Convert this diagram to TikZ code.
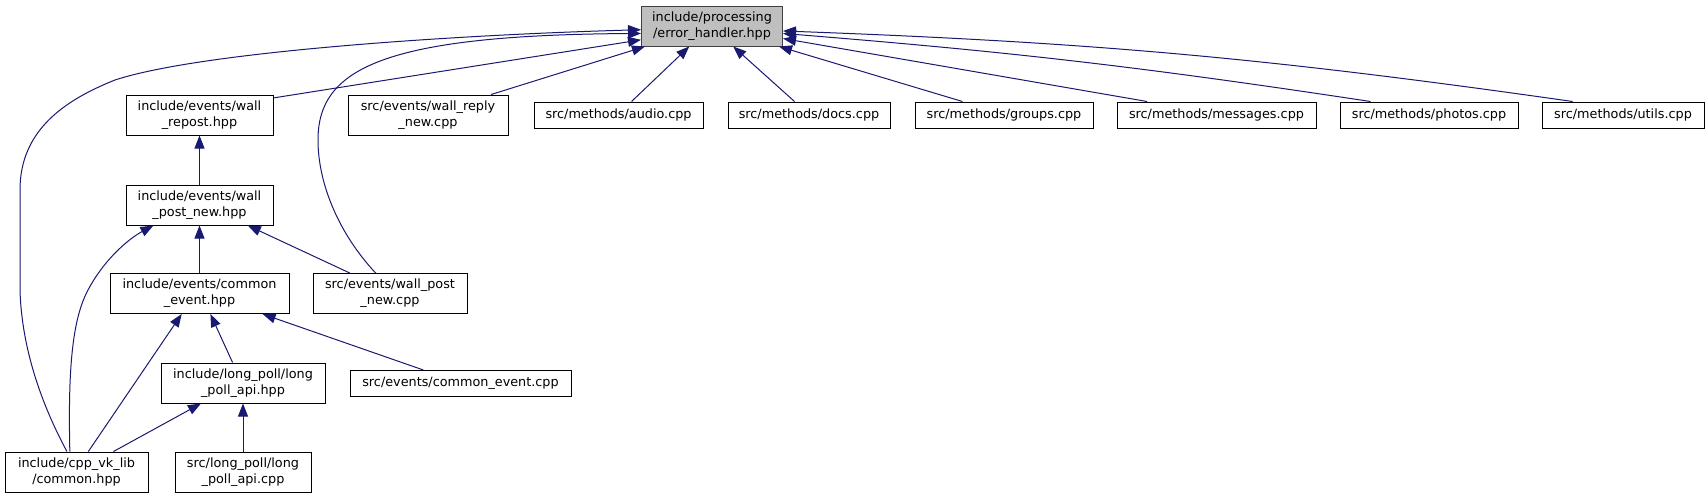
\documentclass[tikz,border=0pt]{standalone}
\usepackage{fontspec}
\setmainfont{DejaVu Sans}
\usetikzlibrary{arrows.meta}
\definecolor{edgeblue}{HTML}{191970}

\begin{document}
\begin{tikzpicture}[
                x=1pt, y=-1pt,
                file/.style={
                        draw=black,
                        line width=1pt,
                        inner sep=0pt,
                        minimum height=26,
                        align=center,
                        font=\fontsize{12.8}{16}\selectfont
                    },
                twoline/.style={file, minimum height=40},
                root/.style={twoline, fill=black!25, draw=black!75},
                dep/.style={draw=edgeblue, line width=1pt, -{Triangle[length=13pt,width=10pt]}}
            ]
            \useasboundingbox (0,0) rectangle (1707,499);

            % Root
            \node[root, minimum width=141] (eh) at (712,26) {include/processing\\/error\_handler.hpp};

            % Second rank
            \node[twoline, minimum width=147] (repost) at (199.5,115) {include/events/wall\\\_repost.hpp};
            \node[twoline, minimum width=160] (replynew) at (428,115) {src/events/wall\_reply\\\_new.cpp};
            \node[file, minimum width=169] (audio) at (618.5,115) {src/methods/audio.cpp};
            \node[file, minimum width=162] (docs) at (809,115) {src/methods/docs.cpp};
            \node[file, minimum width=178] (groups) at (1004,115) {src/methods/groups.cpp};
            \node[file, minimum width=199] (messages) at (1216.5,115) {src/methods/messages.cpp};
            \node[file, minimum width=178] (photos) at (1429,115) {src/methods/photos.cpp};
            \node[file, minimum width=162] (utils) at (1623,115) {src/methods/utils.cpp};

            % Lower ranks
            \node[twoline, minimum width=147] (postnewhpp) at (199.5,205) {include/events/wall\\\_post\_new.hpp};
            \node[twoline, minimum width=179] (commonevhpp) at (199.5,293.5) {include/events/common\\\_event.hpp};
            \node[twoline, minimum width=154] (postnewcpp) at (390,293.5) {src/events/wall\_post\\\_new.cpp};
            \node[twoline, minimum width=164] (lpapihpp) at (243,383) {include/long\_poll/long\\\_poll\_api.hpp};
            \node[file, minimum width=221] (commonevcpp) at (460.5,383.5) {src/events/common\_event.cpp};
            \node[twoline, minimum width=143] (common) at (76.5,472) {include/cpp\_vk\_lib\\/common.hpp};
            \node[twoline, minimum width=136] (lpapicpp) at (243,472) {src/long\_poll/long\\\_poll\_api.cpp};

            % Edges to the root
            \draw[dep] (repost.13) -- (eh.191);
            \draw[dep] (replynew.18) -- (eh.197);
            \draw[dep] (audio.46) -- (eh.222);
            \draw[dep] (docs.137) -- (eh.316);
            \draw[dep] (groups.162) -- (eh.343);
            \draw[dep] (messages.169) -- (eh.350);
            \draw[dep] (photos.167) to[bend right=2] (eh.354);
            \draw[dep] (utils.165) to[bend right=3] (eh.356);
            \draw[dep] (common.115) .. controls (50,420) and (22,360) .. (20,290) -- (20,190)
                .. controls (20,130) and (65,100) .. (115,80)
                .. controls (200,52) and (450,35) .. (eh.183);
            \draw[dep] (postnewcpp.125) .. controls (340,235) and (318,185) .. (318,140)
                .. controls (318,70) and (380,35) .. (eh.186);

            % Edges between the lower files
            \draw[dep] (postnewhpp.north) -- (repost.south);
            \draw[dep] (commonevhpp.north) -- (postnewhpp.south);
            \draw[dep] (postnewcpp.153) -- (postnewhpp.337);
            \draw[dep] (common.108) .. controls (68,370) and (72,320) .. (88,290)
                .. controls (105,258) and (130,238) .. (postnewhpp.204);
            \draw[dep] (common.60) -- (commonevhpp.229);
            \draw[dep] (lpapihpp.117) -- (commonevhpp.298);
            \draw[dep] (commonevcpp.160) -- (commonevhpp.342);
            \draw[dep] (common.29) -- (lpapihpp.206);
            \draw[dep] (lpapicpp.north) -- (lpapihpp.south);

        \end{tikzpicture}
\end{document}
